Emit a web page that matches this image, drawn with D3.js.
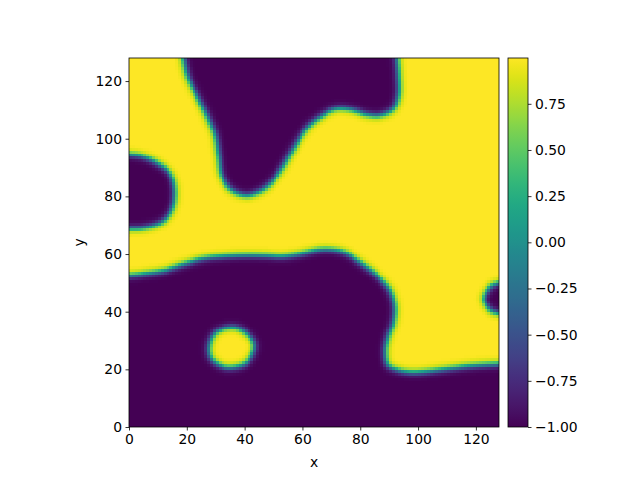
<!DOCTYPE html>
<html>
<head>
<meta charset="utf-8">
<script src="https://cdn.jsdelivr.net/npm/d3@7"></script>
<style>
  body { margin: 0; background: #fff; }
  svg { display: block; }
  svg text { font-family: "DejaVu Sans", sans-serif; font-size: 13.9px; fill: #000; }
  .tick line { stroke: #000; stroke-width: 0.8; }
  .domain { display: none; }
</style>
</head>
<body>
<div id="chart"></div>
<script>
// grid size and colour limits of the field
const N = 128;
const V_MIN = -1.0, V_MAX = 0.998;

// interface outlines, in data units (x, y)
// purple region at the bottom, its upper edge
const bottomEdge = [[-6,52.5],[0,52.7],[5.5,53.3],[12.5,54.5],[19.4,56.8],[26.3,58.7],[33.2,59.4],[40.1,59.7],
  [47,59.6],[53,59.3],[59.2,60.2],[66.1,61.7],[71,61.6],[75,60.5],[79.9,57.3],[85.7,52.7],[90.3,47.5],
  [92,41.5],[91.4,36],[89.7,31.3],[88.8,26.5],[89.7,21.8],[93.7,19.8],[98.4,19.2],[105.3,19.8],
  [112.2,20.7],[119.1,21.5],[128,22],[134,22.1]];
const bottomClose = [[134,-6],[-6,-6]];
// purple region hanging from the top edge
const topBlob = [[18.8,134],[18.8,128],[20.5,121],[24,114],[27.4,107],[29.7,101.3],[30.9,94.3],[32,87.4],
  [34.9,82.8],[40.1,80.5],[44.7,81.6],[48.8,84.5],[52.8,89.7],[56.5,96],[61.5,103.6],[66.1,107.6],
  [71.8,110.5],[77.6,110],[82.2,108.5],[86.8,108.2],[91.4,110.5],[93.2,115.2],[93.2,122.1],[92.8,128],[92.8,134]];
// purple half-ellipse on the left edge
const leftBlob = [[-6,94.7],[0,94.7],[5.5,93.8],[10.1,91.5],[14.2,88],[15.9,82.2],[14.8,75.3],
  [11.3,71.2],[5.5,69.2],[0,68.9],[-6,68.9]];
// small purple blob on the right edge
const rightBlob = [[134,50],[128,50],[125,48.6],[122.8,44.6],[125,40.8],[128,39.6],[134,39.6]];
// small yellow island inside the bottom region
const island = [[37.2,34.5],[43.2,29],[40.7,22.7],[33.8,20.9],[28.6,23.8],[27.8,28.4],[30.3,33.1]];

const axisTicks = [0, 20, 40, 60, 80, 100, 120];
const cbarTicks = [-1.0, -0.75, -0.5, -0.25, 0.0, 0.25, 0.5, 0.75];
const INTERFACE_W = 1.25;

const W = 640, H = 480;
const plot = { left: 129, right: 499, top: 58, bottom: 427 };
const cbar = { left: 508, right: 528 };

var svg = d3.select("#chart").append("svg")
  .attr("width", W).attr("height", H);

var x = d3.scaleLinear().domain([0, N]).range([plot.left, plot.right]);
var y = d3.scaleLinear().domain([0, N]).range([plot.bottom, plot.top]);

// turn a list of points into a densely sampled smooth curve
var probe = svg.append("path").attr("fill", "none").attr("stroke", "none");
function sampleCurve(pts, closed) {
  var line = d3.line().curve(closed ? d3.curveCatmullRomClosed : d3.curveCatmullRom);
  probe.attr("d", line(pts));
  var node = probe.node();
  var len = node.getTotalLength();
  var out = [];
  for (var s = 0; s <= len; s += 0.4) {
    var p = node.getPointAtLength(s);
    out.push([p.x, p.y]);
  }
  return out;
}

var purplePolys = [
  sampleCurve(bottomEdge, false).concat(bottomClose),
  sampleCurve(topBlob, false),
  sampleCurve(leftBlob, false),
  sampleCurve(rightBlob, false)
];
var yellowPolys = [sampleCurve(island, true)];
var allPolys = purplePolys.concat(yellowPolys);

function segDist(px, py, a, b) {
  var dx = b[0] - a[0], dy = b[1] - a[1];
  var t = ((px - a[0]) * dx + (py - a[1]) * dy) / (dx * dx + dy * dy || 1);
  t = Math.max(0, Math.min(1, t));
  var ex = a[0] + t * dx - px, ey = a[1] + t * dy - py;
  return Math.sqrt(ex * ex + ey * ey);
}

// field value of every cell: sign from the regions, profile across the interface
var cells = [];
for (var j = 0; j < N; j++) {
  for (var i = 0; i < N; i++) {
    var c = [i + 0.5, j + 0.5];
    var inPurple = purplePolys.some(function(poly) { return d3.polygonContains(poly, c); });
    var inIsland = yellowPolys.some(function(poly) { return d3.polygonContains(poly, c); });
    var sign = (inPurple && !inIsland) ? -1 : 1;
    var d = Infinity;
    allPolys.forEach(function(poly) {
      for (var k = 0; k < poly.length; k++) {
        var dd = segDist(c[0], c[1], poly[k], poly[(k + 1) % poly.length]);
        if (dd < d) d = dd;
      }
    });
    cells.push({ i: i, j: j, v: sign * Math.tanh(d / INTERFACE_W) });
  }
}
probe.remove();

var color = d3.scaleSequential(d3.interpolateViridis).domain([V_MIN, V_MAX]).clamp(true);

svg.append("g")
  .attr("shape-rendering", "crispEdges")
  .selectAll("rect")
  .data(cells)
  .enter()
  .append("rect")
  .attr("x", function(d) { return x(d.i); })
  .attr("y", function(d) { return y(d.j + 1); })
  .attr("width", function(d) { return x(d.i + 1) - x(d.i) + 0.4; })
  .attr("height", function(d) { return y(d.j) - y(d.j + 1) + 0.4; })
  .attr("fill", function(d) { return color(d.v); });

// axes
function styleAxis(g) {
  g.attr("font-family", null).attr("font-size", null);
}
svg.append("g")
  .attr("transform", "translate(0," + plot.bottom + ")")
  .call(d3.axisBottom(x).tickValues(axisTicks).tickSize(3.5).tickPadding(3.5).tickSizeOuter(0))
  .call(styleAxis);
svg.append("g")
  .attr("transform", "translate(" + plot.left + ",0)")
  .call(d3.axisLeft(y).tickValues(axisTicks).tickSize(3.5).tickPadding(3.5).tickSizeOuter(0))
  .call(styleAxis);

svg.append("rect")
  .attr("x", plot.left).attr("y", plot.top)
  .attr("width", plot.right - plot.left).attr("height", plot.bottom - plot.top)
  .attr("fill", "none").attr("stroke", "#000").attr("stroke-width", 0.8);

svg.append("text")
  .attr("x", (plot.left + plot.right) / 2).attr("y", 467)
  .attr("text-anchor", "middle")
  .text("x");
svg.append("text")
  .attr("transform", "translate(84," + (plot.top + plot.bottom) / 2 + ") rotate(-90)")
  .attr("text-anchor", "middle")
  .text("y");

// colorbar
var grad = svg.append("defs").append("linearGradient")
  .attr("id", "viridis").attr("x1", 0).attr("y1", 1).attr("x2", 0).attr("y2", 0);
d3.range(0, 1.0001, 0.02).forEach(function(t) {
  grad.append("stop").attr("offset", t).attr("stop-color", d3.interpolateViridis(t));
});
var cy = d3.scaleLinear().domain([V_MIN, V_MAX]).range([plot.bottom, plot.top]);
svg.append("rect")
  .attr("x", cbar.left).attr("y", plot.top)
  .attr("width", cbar.right - cbar.left).attr("height", plot.bottom - plot.top)
  .attr("fill", "url(#viridis)")
  .attr("stroke", "#000").attr("stroke-width", 0.8);
svg.append("g")
  .attr("transform", "translate(" + cbar.right + ",0)")
  .call(d3.axisRight(cy).tickValues(cbarTicks).tickSize(3.5).tickPadding(3.5).tickSizeOuter(0)
    .tickFormat(function(d) { return d3.format(".2f")(d).replace("-", "\u2212"); }))
  .call(styleAxis);
</script>
</body>
</html>
